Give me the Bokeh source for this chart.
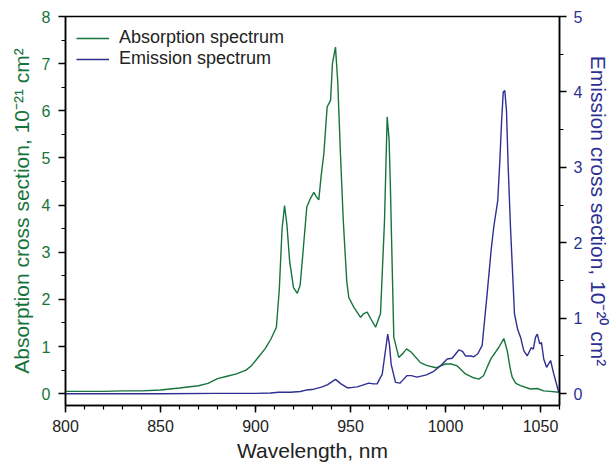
from bokeh.plotting import figure
from bokeh.models import Range1d, LinearAxis, Legend, LegendItem, SingleIntervalTicker
from bokeh.embed import file_html
from bokeh.resources import INLINE

# ---- data ----
abs_wl = [800, 810, 820, 830, 840, 850, 860, 870, 875, 880, 885, 890, 895, 898, 902, 905, 908, 911,
          912.5, 914, 915.3, 916.5, 918, 920, 922, 923.5, 925, 927, 929, 930.7, 932, 933.3, 934.5, 936,
          937.7, 939.5, 940.5, 942.1, 943.3, 944.7, 946.2, 948, 949.1, 951.8, 955.3, 957, 958.8, 960.5,
          963.2, 965.8, 967.9, 969.3, 970.3, 971, 972, 972.8, 975.4, 977.5, 979.5, 982, 986.8, 990, 995,
          997.4, 1000, 1003, 1006.2, 1010.5, 1014, 1017.5, 1020, 1021.9, 1024, 1026.3, 1028, 1030.7,
          1032.5, 1034, 1035.1, 1037, 1039.5, 1044.7, 1048.3, 1051.7, 1055, 1059.6]
abs_val = [0.05, 0.05, 0.05, 0.06, 0.06, 0.08, 0.12, 0.17, 0.22, 0.32, 0.37, 0.42, 0.50, 0.60, 0.80, 0.95,
           1.15, 1.41, 2.2, 3.5, 3.99, 3.6, 2.8, 2.25, 2.13, 2.3, 3.0, 3.96, 4.15, 4.27, 4.18, 4.11, 4.6,
           5.1, 6.08, 6.22, 7.0, 7.35, 6.6, 5.1, 3.67, 2.4, 2.04, 1.83, 1.62, 1.70, 1.73, 1.60, 1.41, 1.70,
           3.67, 5.87, 5.4, 4.38, 2.6, 1.2, 0.77, 0.85, 0.95, 0.88, 0.66, 0.60, 0.55, 0.59, 0.63, 0.63,
           0.59, 0.42, 0.35, 0.31, 0.38, 0.56, 0.75, 0.88, 0.98, 1.17, 0.91, 0.55, 0.35, 0.22, 0.17, 0.10,
           0.11, 0.06, 0.05, 0.03]

em_wl = [800, 850, 880, 900, 908, 912, 918.4, 923.7, 927, 930.7, 935.1, 938, 942.1, 945, 948.2, 950,
         953.5, 956, 959.6, 962, 964, 966.7, 968, 969.6, 970.5, 971.4, 973.7, 976, 977.5, 979.8, 982,
         985, 990, 994, 997.4, 1000.9, 1003.5, 1007, 1009, 1010.5, 1013.2, 1014.9, 1017, 1019.3, 1021.9,
         1024, 1025.4, 1027.5, 1028.6, 1029.5, 1030.4, 1031.2, 1032.1, 1033, 1034.2, 1036.3, 1038,
         1039.5, 1041.2, 1043, 1045.1, 1046.2, 1047.4, 1048.3, 1049.6, 1050.5, 1051.7, 1053.2, 1055.3,
         1057, 1059.6]
em_val = [0.0, 0.0, 0.005, 0.005, 0.01, 0.02, 0.02, 0.03, 0.05, 0.06, 0.09, 0.12, 0.19, 0.13, 0.08, 0.08,
          0.09, 0.11, 0.14, 0.13, 0.13, 0.26, 0.5, 0.79, 0.65, 0.39, 0.15, 0.14, 0.18, 0.24, 0.24, 0.22,
          0.25, 0.30, 0.37, 0.46, 0.47, 0.58, 0.56, 0.50, 0.50, 0.49, 0.53, 0.64, 1.32, 1.9, 2.21, 2.56,
          3.09, 3.6, 4.0, 4.02, 3.75, 3.0, 2.21, 1.06, 0.85, 0.75, 0.57, 0.50, 0.61, 0.59, 0.75, 0.79,
          0.66, 0.68, 0.46, 0.35, 0.44, 0.26, 0.02]

x_label = "Wavelength, nm"
left_label = "Absorption cross section, 10\u207b\u00b2\u00b9 cm\u00b2"
right_label = "Emission cross section, 10\u207b\u00b2\u2070 cm\u00b2"
legend_labels = ["Absorption spectrum", "Emission spectrum"]

GREEN = "#17743c"
BLUE = "#2e2f92"
FONT = "Liberation Sans"

p = figure(width=613, height=464, output_backend="svg", toolbar_location=None,
           x_range=Range1d(800, 1060), y_range=Range1d(-0.25, 8),
           min_border_left=65, min_border_right=54, min_border_top=16, min_border_bottom=59,
           background_fill_color="white", border_fill_color="white")
p.extra_y_ranges = {"em": Range1d(-0.15625, 5)}
p.grid.visible = False
p.outline_line_color = "black"
p.outline_line_width = 1.5

r_abs = p.line(abs_wl, abs_val, line_color=GREEN, line_width=1.4)
r_em = p.line(em_wl, em_val, line_color=BLUE, line_width=1.4, y_range_name="em")

# bottom axis
xa = p.xaxis[0]
xa.ticker = SingleIntervalTicker(interval=50, num_minor_ticks=5)
xa.axis_label = x_label
xa.axis_label_text_font = FONT
xa.axis_label_text_font_style = "normal"
xa.axis_label_text_font_size = "21px"
xa.axis_label_text_color = "#222222"
xa.axis_label_standoff = 4
xa.major_label_text_font = FONT
xa.major_label_text_font_size = "16px"
xa.major_label_text_color = "#222222"
xa.major_label_standoff = 7

# left axis
ya = p.yaxis[0]
ya.ticker = SingleIntervalTicker(interval=1, num_minor_ticks=2)
ya.axis_label = left_label
ya.axis_label_text_color = GREEN
ya.major_label_text_color = GREEN
ya.axis_label_standoff = 6
ya.major_label_standoff = 8

# right axis
ry = LinearAxis(y_range_name="em", ticker=SingleIntervalTicker(interval=1, num_minor_ticks=2),
                axis_label=right_label)
ry.axis_label_text_color = BLUE
ry.major_label_text_color = BLUE
ry.axis_label_standoff = 2
ry.major_label_standoff = 7
p.add_layout(ry, "right")

for ax in [ya, ry]:
    ax.axis_label_text_font = FONT
    ax.axis_label_text_font_style = "normal"
    ax.axis_label_text_font_size = "21px"
    ax.major_label_text_font = FONT
    ax.major_label_text_font_size = "16px"
    ax.major_label_orientation = "horizontal"

for ax in [xa, ya, ry]:
    ax.axis_line_color = "black"
    ax.axis_line_width = 1.5
    ax.major_tick_line_color = "black"
    ax.major_tick_line_width = 1.5
    ax.minor_tick_line_color = "black"
    ax.minor_tick_line_width = 1.2
    ax.major_tick_in = 0
    ax.major_tick_out = 7
    ax.minor_tick_in = 0
    ax.minor_tick_out = 4

legend = Legend(items=[LegendItem(label=legend_labels[0], renderers=[r_abs]),
                       LegendItem(label=legend_labels[1], renderers=[r_em])],
                border_line_color=None, background_fill_alpha=0,
                label_text_font=FONT, label_text_font_size="18px", label_text_color="#222222",
                glyph_width=33, glyph_height=18, label_height=18, spacing=0, padding=5,
                label_standoff=10)
legend.location = "top_left"
legend.margin = 11
p.add_layout(legend)

open("out.html", "w").write(file_html(p, INLINE))
